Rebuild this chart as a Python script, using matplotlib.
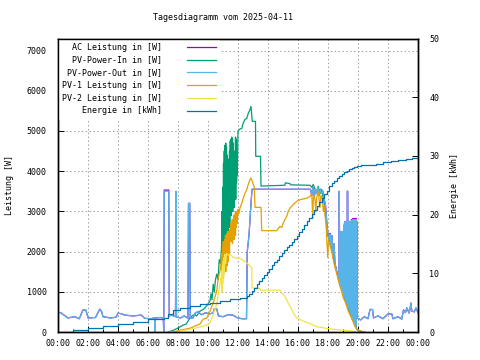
import numpy as np
import matplotlib.pyplot as plt
from matplotlib.ticker import MultipleLocator

plt.rcParams['font.family'] = ['DejaVu Sans Mono']
plt.rcParams['font.size'] = 6

# --- data (time in minutes since midnight) ---------------------------------

# PV-Power-Out [W]
out_min = [0, 13, 40, 67, 85, 100, 112, 120, 150, 167, 175, 180, 210, 233, 240, 255, 267,
           300, 333, 347, 370, 386, 388, 390, 410, 421, 423, 425, 443, 445, 455, 470, 472,
           474, 490, 505, 520, 522, 527, 529, 540, 550, 560, 575, 590, 605, 620, 625, 635,
           642, 660, 680, 700, 715, 735, 754, 757, 764, 770, 776, 1010,
           1015, 1020, 1025, 1030, 1035, 1040, 1045, 1050, 1055, 1060, 1065, 1070, 1075,
           1080, 1085, 1088, 1092, 1096, 1100, 1104, 1108, 1115, 1121, 1124, 1125, 1127,
           1128, 1129, 1131, 1132, 1134, 1135, 1137, 1138, 1140, 1141, 1143, 1144, 1146,
           1147, 1149, 1150, 1152, 1153, 1155, 1156, 1157, 1159, 1160, 1162, 1163, 1165,
           1166, 1168, 1169, 1171, 1172, 1174, 1175, 1177, 1178, 1180, 1181, 1183, 1184,
           1186, 1187, 1189, 1190, 1192, 1193, 1195, 1196, 1210, 1225, 1240, 1248, 1258,
           1262, 1280, 1300, 1320, 1335, 1340, 1360, 1375, 1382, 1390, 1395, 1405, 1412,
           1415, 1425, 1432, 1440]
out_w = [500, 470, 350, 380, 330, 550, 540, 350, 360, 570, 500, 380, 350, 370, 470, 450, 420,
         400, 420, 340, 330, 350, 0, 350, 360, 350, 0, 3500, 3500, 400, 420, 380, 3500,
         370, 350, 400, 340, 3200, 3200, 350, 350, 480, 500, 430, 480, 450, 470, 570, 570,
         400, 380, 430, 420, 360, 330, 330, 2000, 2400, 3000, 3550, 3550,
         3400, 3600, 3350, 3550, 3450, 3600, 3400, 3550, 3450, 3500, 3300, 3150, 2750,
         2400, 2300, 2430, 2100, 2400, 1900, 2200, 1700, 1500, 1350, 1250, 3500, 1200,
         2400, 1150, 2500, 1120, 2350, 1060, 2500, 1000, 2450, 950, 2650, 900, 2700,
         850, 2750, 780, 2650, 760, 2700, 690, 3500, 3500, 620, 2750, 600, 2700,
         560, 2750, 480, 2700, 460, 2780, 360, 2750, 330, 2800, 290, 2750, 220,
         2800, 200, 2780, 150, 2800, 120, 2750, 350, 300, 380, 330, 560, 560,
         350, 400, 330, 450, 450, 330, 380, 320, 550, 480, 600, 470, 720,
         520, 500, 600, 480]

# AC Leistung [W]: follows PV-Power-Out, slightly higher at these readings
ac_tops = {425: 3530, 443: 3530, 1088: 2450, 1174: 2800, 1180: 2825,
           1186: 2825, 1192: 2825}

# PV-Power-In [W]
in_min = [440, 460, 480, 500, 513, 528, 540, 548, 555, 568, 580, 588, 600, 608, 612, 616,
          621, 625, 630, 635, 640, 645, 650, 655, 656, 657, 659, 660, 662, 663, 665, 666,
          668, 669, 671, 672, 674, 675, 677, 678, 680, 681, 683, 684, 686, 687, 689, 690,
          692, 693, 695, 696, 698, 699, 701, 702, 704, 705, 707, 708, 710, 711, 713, 714,
          716, 717, 720, 728, 735, 741, 748, 755, 761, 768, 772, 777, 790, 791, 810, 812,
          908, 909, 928, 930, 1008, 1015, 1021, 1028, 1035, 1041, 1048, 1055, 1061, 1068,
          1075, 1081, 1088, 1095, 1101, 1108, 1115, 1121, 1128, 1135, 1141, 1148, 1155,
          1161, 1168, 1175, 1181, 1188, 1195, 1205, 1215]
in_w = [0, 40, 100, 170, 200, 350, 420, 430, 400, 520, 560, 600, 700, 770, 950, 800,
        1190, 1000, 1300, 1440, 1300, 1800, 1700, 2200, 3000, 1600, 3600, 1700, 4200, 1800, 4500, 2000,
        4650, 2200, 4700, 2100, 4600, 2400, 4400, 2600, 3900, 2300, 4300, 2800, 4500, 2600, 4750, 3000,
        4800, 2900, 4850, 3200, 4800, 3000, 4700, 3300, 4200, 3100, 4500, 3400, 4850, 3300, 4800, 3700,
        4000, 3900, 5000, 5050, 5060, 5200, 5290, 5310, 5440, 5530, 5610, 5240, 5240, 4370, 4370, 3630,
        3650, 3710, 3690, 3660, 3650, 3600, 3670, 3550, 3500, 3620, 3450, 3550, 3330, 3080,
        2590, 2380, 2260, 2090, 1850, 1680, 1510, 1350, 1180, 1060, 935, 810, 690,
        600, 480, 360, 270, 150, 70, 20, 0]

# PV-1 Leistung [W]
pv1_min = [460, 488, 528, 568, 581, 595, 608, 621, 635, 641, 648, 652, 655, 656, 658, 659,
           661, 662, 664, 665, 667, 668, 670, 671, 673, 674, 676, 677, 679, 680, 682, 683,
           685, 686, 688, 689, 691, 692, 694, 695, 697, 698, 700, 701, 703, 704, 706, 707,
           709, 710, 712, 713, 716, 717, 720, 724, 728, 735, 741, 748, 755, 761, 768, 772,
           779, 785, 788, 812, 815, 875, 888, 895, 901, 908, 915, 921, 928, 941, 955, 968,
           995, 1008, 1015, 1019, 1022, 1028, 1031, 1035, 1041, 1048, 1052, 1058, 1061, 1065,
           1068, 1072, 1076, 1079, 1082, 1088, 1095, 1101, 1108, 1115, 1121, 1128, 1135, 1141,
           1148, 1155, 1161, 1168, 1175, 1181, 1188, 1195, 1205, 1215, 1228]
pv1_w = [0, 45, 95, 200, 320, 350, 520, 730, 1020, 1350, 1520, 1700, 1950, 1300, 2100, 1400,
         2250, 1350, 2000, 1500, 2300, 1600, 2400, 1500, 2250, 1700, 2450, 1650, 2500, 1750, 2350, 1900,
         2500, 2000, 2550, 2300, 2700, 2250, 2600, 2350, 2800, 2200, 2750, 2400, 2900, 2300, 2850, 2500,
         2950, 2400, 3000, 2600, 2950, 2700, 3050, 2950, 3090, 3200, 3330, 3450, 3540, 3670, 3790, 3830,
         3720, 3600, 3100, 3100, 2520, 2520, 2630, 2600, 2710, 2800, 2880, 3000, 3080, 3170, 3250, 3290,
         3330, 3370, 3450, 2830, 3400, 3300, 3000, 3350, 3500, 3100, 3400, 3300, 3000, 3150,
         2900, 2700, 2200, 1850, 2300, 2150, 2000, 1800, 1600, 1450, 1300, 1130, 1000, 850,
         760, 640, 520, 430, 330, 250, 140, 80, 40, 20, 0]

# PV-2 Leistung [W]
pv2_min = [440, 473, 488, 528, 568, 595, 608, 621, 635, 641, 648, 652, 655, 656, 658, 659,
           661, 662, 664, 665, 668, 671, 674, 678, 683, 688, 701, 715, 722, 728, 741, 755,
           768, 775, 776, 808, 812, 888, 895, 901, 908, 915, 921, 928, 935, 941, 948, 955,
           968, 981, 1008, 1035, 1075, 1115, 1155, 1190, 1205]
pv2_w = [0, 0, 25, 66, 124, 174, 230, 440, 690, 940, 1190, 1350, 1520, 1000, 1650, 1200,
         1760, 1400, 1850, 1500, 1930, 1700, 1950, 1930, 1900, 1930, 1860, 1830, 1860, 1830, 1780, 1720,
         1640, 1600, 1100, 1080, 1040, 1040, 950, 950, 880, 800, 720, 640, 560, 480, 410, 350,
         310, 270, 210, 130, 90, 60, 35, 10, 0]

# Energie [kWh]
en_min = [0, 20, 60, 120, 180, 240, 300, 360, 424, 440, 460, 488, 528, 568, 608, 648, 688,
          728, 755, 765, 775, 785, 795, 805, 815, 825, 835, 845, 855, 865, 875, 885, 895,
          905, 915, 925, 935, 945, 955, 965, 975, 985, 995, 1005, 1015, 1025, 1035, 1045,
          1055, 1065, 1075, 1085, 1095, 1105, 1115, 1125, 1135, 1145, 1155, 1165, 1175,
          1185, 1195, 1210, 1240, 1270, 1300, 1330, 1360, 1390, 1415, 1440]
en_kwh = [0, 0.05, 0.28, 0.62, 1.02, 1.42, 1.76, 2.15, 2.44, 3.12, 3.68, 4.14, 4.42, 4.7, 4.99, 5.27, 5.56,
          5.84, 6.12, 6.5, 7.0, 7.5, 8.1, 8.7, 9.2, 9.7, 10.3, 10.8, 11.4, 11.9, 12.3, 12.9, 13.4,
          13.9, 14.4, 14.8, 15.3, 15.8, 16.4, 17.0, 17.6, 18.2, 18.9, 19.5, 20.1, 20.8, 21.5, 22.1,
          22.8, 23.5, 24.1, 24.8, 25.3, 25.8, 26.2, 26.5, 26.9, 27.2, 27.5, 27.7, 27.9,
          28.1, 28.3, 28.4, 28.5, 28.7, 28.9, 29.1, 29.3, 29.5, 29.7, 30.0]

labels = ['AC Leistung in [W]', 'PV-Power-In in [W]', 'PV-Power-Out in [W]',
          'PV-1 Leistung in [W]', 'PV-2 Leistung in [W]', 'Energie in [kWh]']
colors = ['#9400d3', '#009e73', '#56b4e9', '#e69f00', '#f0e442', '#0072b2']
xticklabels = ['00:00', '02:00', '04:00', '06:00', '08:00', '10:00', '12:00',
               '14:00', '16:00', '18:00', '20:00', '22:00', '00:00']

ac_w = list(out_w)
for m, w in ac_tops.items():
    ac_w[out_min.index(m)] = w


def hours(m):
    return np.asarray(m) / 60.0


fig = plt.figure(figsize=(4.8, 3.6), dpi=100)
ax = fig.add_axes([58 / 480, 28 / 360, 360 / 480, 293.5 / 360])
ax2 = ax.twinx()

lw = 0.9
h = []
h += ax.plot(hours(out_min), ac_w, color=colors[0], lw=lw, label=labels[0])
h += ax.plot(hours(in_min), in_w, color=colors[1], lw=lw, label=labels[1])
h += ax.plot(hours(out_min), out_w, color=colors[2], lw=lw, label=labels[2])
h += ax.plot(hours(pv1_min), pv1_w, color=colors[3], lw=lw, label=labels[3])
h += ax.plot(hours(pv2_min), pv2_w, color=colors[4], lw=lw, label=labels[4])
h += ax2.step(hours(en_min), en_kwh, where='post', color=colors[5], lw=lw, label=labels[5])

ax.set_xlim(0, 24)
ax.set_ylim(0, 7300)
ax2.set_ylim(0, 50)

ax.set_xticks(np.arange(0, 25, 2))
ax.set_xticklabels(xticklabels)
ax.xaxis.set_minor_locator(MultipleLocator(1))
ax.set_yticks(np.arange(0, 7001, 1000))
ax2.set_yticks(np.arange(0, 51, 10))

ax.tick_params(axis='x', which='major', direction='in', length=4, width=0.7, pad=5)
ax.tick_params(axis='x', which='minor', direction='in', length=2, width=0.7)
ax.tick_params(axis='y', direction='in', length=4, width=0.7, pad=8)
ax2.tick_params(axis='y', direction='in', length=4, width=0.7, pad=8)

ax.grid(True, which='major', color='#a0a0a0', lw=0.7, linestyle=(0, (1.5, 2.5)))
ax.set_axisbelow(True)
for sp in list(ax.spines.values()) + list(ax2.spines.values()):
    sp.set_linewidth(1.0)

ax.set_ylabel('Leistung [W]', labelpad=9)
ax2.set_ylabel('Energie [kWh]', labelpad=8)
fig.text(223 / 480, 1 - 17 / 360, 'Tagesdiagramm vom 2025-04-11', ha='center', va='center')

leg = ax.legend(h, labels, loc='upper left', bbox_to_anchor=(0, 1), borderaxespad=0,
                markerfirst=False, frameon=True, fancybox=False, edgecolor='none',
                facecolor='white', framealpha=1, handlelength=3.4, handletextpad=3.0,
                labelspacing=0.45, borderpad=0.5)
for col in leg._legend_handle_box.get_children():
    col.align = 'right'

fig.savefig('out.png', dpi=100)
